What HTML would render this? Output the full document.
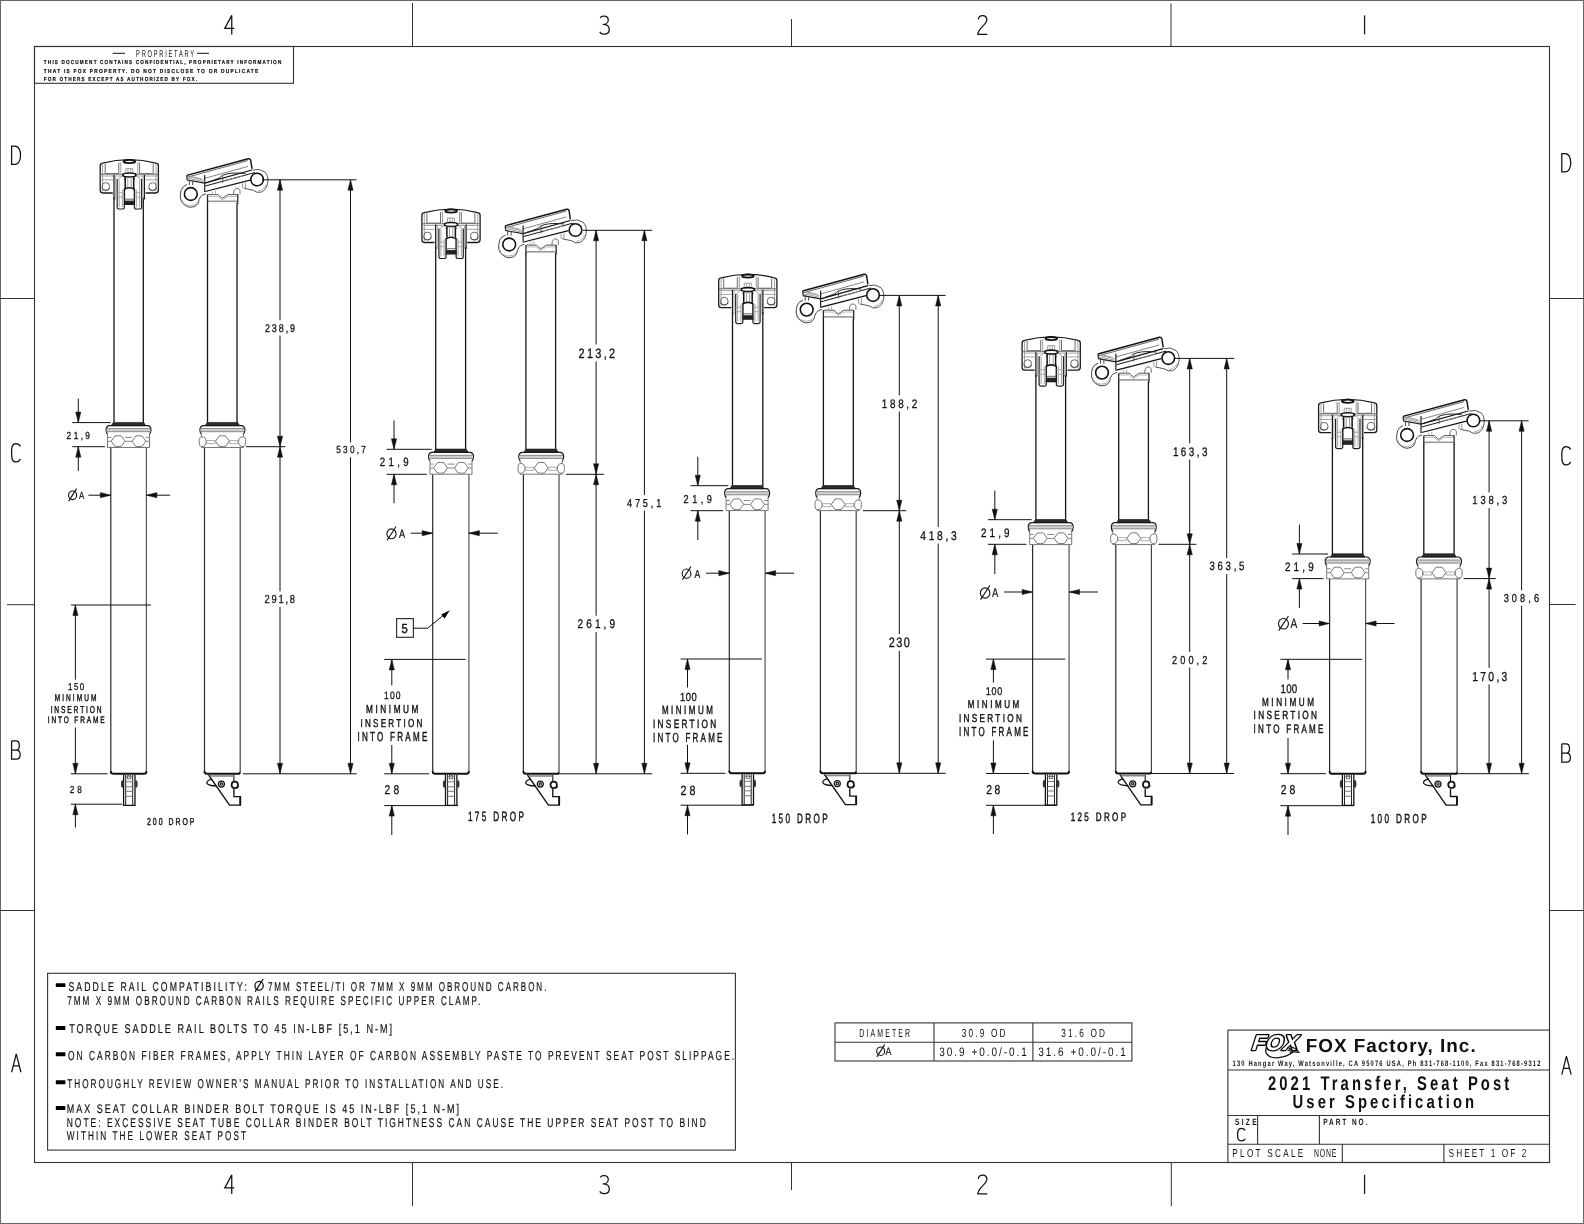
<!DOCTYPE html>
<html><head><meta charset="utf-8"><style>
html,body{margin:0;padding:0;background:#fff;overflow:hidden;}
svg{display:block;will-change:transform;}
text{font-family:"Liberation Sans",sans-serif;text-rendering:geometricPrecision;}
</style></head><body>
<svg width="1584" height="1224" viewBox="0 0 1584 1224">
<defs><g id="fhead"><path d="M-1.2,33.4 L-11.3,33.4 Q-13.8,33.4 -13.8,30.5 L-13.8,6.2 Q-13.8,4 -11.5,3.6 Q15.2,-3.4 42.1,3.6 Q44.4,4 44.4,6.2 L44.4,30.5 Q44.4,33.4 41.6,33.4 L31.6,33.4" stroke="#1a1a1a" stroke-width="1.3" fill="none"/><ellipse cx="15.4" cy="1.9" rx="5.9" ry="1.6" stroke="#111" stroke-width="1.8" fill="#fff"/><path d="M-8.8,4.2 L-8.8,14 L4.8,14 L4.8,3.0" stroke="#6a6a6a" stroke-width="1" fill="none"/><path d="M25.6,3.0 L25.6,14 L39.2,14 L39.2,4.2" stroke="#6a6a6a" stroke-width="1" fill="none"/><path d="M-11.4,4 L-11.4,32 M42,4 L42,32" stroke="#9a9a9a" stroke-width="0.9" fill="none"/><path d="M6.8,2.5 L6.8,14 M23.8,2.5 L23.8,14" stroke="#9a9a9a" stroke-width="1" fill="none"/><path d="M-13.6,14.6 L44.2,14.6" stroke="#6a6a6a" stroke-width="1" fill="none"/><path d="M-13.6,16.4 L44.2,16.4" stroke="#9a9a9a" stroke-width="0.9" fill="none"/><path d="M-13.6,20.2 L-1,20.2 M31.5,20.2 L44.2,20.2" stroke="#9a9a9a" stroke-width="0.9" fill="none"/><path d="M-12,27 Q-12,23 -8.2,23 Q-4.4,23 -4.4,27 Q-4.4,31 -8.2,31 Q-12,31 -12,27 Z" stroke="#6a6a6a" stroke-width="1" fill="none"/><path d="M34.8,27 Q34.8,23 38.6,23 Q42.4,23 42.4,27 Q42.4,31 38.6,31 Q34.8,31 34.8,27 Z" stroke="#6a6a6a" stroke-width="1" fill="none"/><path d="M-12.5,28.5 Q-8.2,33 -4,28.5 M34.3,28.5 Q38.6,33 42.9,28.5" stroke="#444" stroke-width="0.9" fill="none"/><path d="M11.8,12.5 L11.8,9 L18.8,9 L18.8,12.5" stroke="#9a9a9a" stroke-width="1" fill="none"/><path d="M14,8.8 L14,13 M16.6,8.8 L16.6,13" stroke="#9a9a9a" stroke-width="0.8" fill="none"/><path d="M3.5,20 L9.5,15.2 M27,20 L21,15.2" stroke="#9a9a9a" stroke-width="0.9" fill="none"/><ellipse cx="15.4" cy="15.4" rx="6.6" ry="2.0" stroke="#111" stroke-width="1.6" fill="#fff"/><path d="M11.2,17.2 L11.2,28.5 M19.7,17.2 L19.7,28.5" stroke="#111" stroke-width="1.5" fill="none"/><path d="M13.8,17.5 L13.8,28.5 M17.2,17.5 L17.2,28.5" stroke="#9a9a9a" stroke-width="1" fill="none"/><path d="M10,19.3 L11.2,19.3 M19.7,19.3 L21,19.3" stroke="#222" stroke-width="1.2" fill="none"/><path d="M10.4,28.8 L10.4,44.8 L20.4,44.8 L20.4,28.8" stroke="#111" stroke-width="1.4" fill="none"/><path d="M10.4,29.6 Q15.4,26.8 20.4,29.6" stroke="#111" stroke-width="1.6" fill="none"/><rect x="10.4" y="41.0" width="10" height="3.8" fill="#222"/><path d="M10.4,39.6 L20.4,39.6" stroke="#555" stroke-width="0.9" fill="none"/><path d="M3.2,19.5 L3.2,47.3 Q3.2,49.4 5.4,49.4 L8.4,49.4 Q10.4,49.4 10.4,47.3 L10.4,44" stroke="#222" stroke-width="1.2" fill="none"/><path d="M20.4,44 L20.4,47.3 Q20.4,49.4 22.4,49.4 L25.4,49.4 Q27.6,49.4 27.6,47.3 L27.6,19.5" stroke="#222" stroke-width="1.2" fill="none"/><path d="M5.2,20 L5.2,47.5 M8.4,30 L8.4,47.5 M22.4,30 L22.4,47.5 M25.6,20 L25.6,47.5" stroke="#9a9a9a" stroke-width="0.9" fill="none"/><path d="M3.2,33 L10.4,33 M20.4,33 L27.6,33 M3.2,37.5 L10.4,37.5 M20.4,37.5 L27.6,37.5" stroke="#9a9a9a" stroke-width="0.8" fill="none"/><path d="M0,15.5 L0,40 M30.4,15.5 L30.4,40" stroke="#1a1a1a" stroke-width="1.25" fill="none"/><path d="M1.6,17 L1.6,40 M28.8,17 L28.8,40" stroke="#9a9a9a" stroke-width="0.8" fill="none"/></g><g id="shead"><path d="M-20.8,-4.4 L40.7,-21.1 Q42.6,-21.4 43.2,-19.5 L44.5,-11" stroke="#111" stroke-width="1.45" fill="none"/><path d="M-20.2,-2.6 L40.2,-19.2" stroke="#555" stroke-width="0.9" fill="none"/><path d="M-2.8,-1.5 L40.5,-13.4" stroke="#777" stroke-width="0.9" fill="none"/><path d="M-20.8,-4.4 L-20.2,0.3 L-2.8,3.4" stroke="#222" stroke-width="1.2" fill="none"/><path d="M-19.5,-1.5 L-4,1.8 M-19,-3 L-4,0.2 M-17,-3.6 L-6,-1" stroke="#999" stroke-width="0.9" fill="none"/><path d="M-2.8,3.4 L44.5,-9.8" stroke="#111" stroke-width="1.25" fill="none"/><path d="M-2.8,-4.7 L-2.8,12.3" stroke="#222" stroke-width="1.2" fill="none"/><path d="M-18.2,0 L-18.2,5.2 M-14.8,0.7 L-14.8,5.2" stroke="#444" stroke-width="1" fill="none"/><path d="M-2.2,11.7 L42.6,0.3" stroke="#111" stroke-width="1.25" fill="none"/><path d="M-2.2,6.3 L47.5,-7.3" stroke="#222" stroke-width="1.05" fill="none"/><path d="M0.3,2.3 C5,1 8.5,-0.8 11.5,-1.6 C13.5,-3.2 14.5,-4.4 15.9,-4.8 C20,-6.4 25,-6.8 30,-6.8 L38,-6.4" stroke="#222" stroke-width="1" fill="none"/><path d="M15.2,-4.8 L15.2,3" stroke="#555" stroke-width="1" fill="none"/><path d="M17,0.6 L32,-2.8 M26,-1 L36,-4.2" stroke="#888" stroke-width="0.9" fill="none"/><circle cx="49.6" cy="-0.3" r="6.3" stroke="#111" stroke-width="1.6" fill="none"/><path d="M45.1,-9.8 Q52,-11.8 57.5,-7.8 Q61.2,-3.5 60.3,3 Q59,10 53.9,12.3 Q49,13.5 45.6,10.4 L36.3,8.5" stroke="#555" stroke-width="1" fill="none"/><path d="M58.5,4.8 Q56.5,10.6 50.5,11" stroke="#999" stroke-width="0.8" fill="none"/><path d="M35.2,8.3 L35.2,3.5 M38,8.6 L38,3" stroke="#888" stroke-width="0.9" fill="none"/><circle cx="-16.7" cy="14.2" r="6.4" stroke="#111" stroke-width="1.6" fill="none"/><path d="M-20.5,4.7 Q-25,6.5 -26.2,9.8 Q-27.6,14.5 -27.1,18.7 Q-26,23.5 -23,25 Q-20,27.5 -16.7,27.5 Q-12,27.4 -9.8,24.3 Q-8.6,22 -8.5,19.9 Q-7,16.5 -5.4,15.5 Q-3.5,14.3 -1.6,14.2" stroke="#444" stroke-width="1" fill="none"/><path d="M-26.3,19 Q-25,25.5 -17,25.8 Q-11.5,25.6 -9.6,22" stroke="#999" stroke-width="0.8" fill="none"/><path d="M0.3,14.8 L10.4,14.8 L14.8,18.6 L20.5,14.8 L30.6,14.8" stroke="#555" stroke-width="1" fill="none"/><path d="M0.3,16.6 L10,16.6 L14.8,20.2 L20.5,16.6 L30.3,16.6" stroke="#aaa" stroke-width="0.8" fill="none"/><path d="M26,14.8 Q25.5,10.5 28.5,8.5 Q31.5,8 32.5,10.5 L32.5,14.5" stroke="#666" stroke-width="0.95" fill="none"/><path d="M5,11.8 L5,14.8 M8,11 L8,14.8" stroke="#999" stroke-width="0.8" fill="none"/><path d="M0.5,21.5 L29.8,21.5" stroke="#999" stroke-width="1.6" fill="none"/><path d="M0,14.8 L0,24 M30.3,14.8 L30.3,24" stroke="#222" stroke-width="1.25" fill="none"/></g><g id="fcollar"><path d="M-15.2,-0.2 L15.2,-0.2 L17.2,3.0 L-17.2,3.0 Z" fill="#2a2a2a" stroke="#222" stroke-width="0.7"/><path d="M-19.5,3.0 L19.5,3.0 Q22.2,3.6 22.5,7 Q22.5,10 21,11.8 M-19.5,3.0 Q-22.2,3.6 -22.5,7 Q-22.5,10 -21,11.8" stroke="#1a1a1a" stroke-width="1.2" fill="none"/><rect x="-21.8" y="6" width="43.6" height="3" fill="#d0d0d0"/><path d="M-21.8,6.0 L21.8,6.0" stroke="#888" stroke-width="1" fill="none"/><path d="M-21.8,9.1 L21.8,9.1" stroke="#888" stroke-width="1" fill="none"/><path d="M-21,11.5 L-21,24.9 L21,24.9 L21,11.5" stroke="#777" stroke-width="1" fill="none"/><path d="M-17.3,18.6 L-13.6,13.4 Q-10.4,12.8 -7.2,13.4 L-3.5,18.6 L-7,23.6 Q-10.4,24.3 -13.8,23.6 Z" stroke="#777" stroke-width="1" fill="#fff"/><path d="M3.5,18.6 L7.2,13.4 Q10.4,12.8 13.6,13.4 L17.3,18.6 L13.8,23.6 Q10.4,24.3 7,23.6 Z" stroke="#777" stroke-width="1" fill="#fff"/><path d="M-3.5,14.8 L3.5,14.8 M-3.5,18.7 L3.5,18.7 M-20.8,14.8 L-17.2,14.8 M-20.8,18.7 L-17.2,18.7 M20.8,14.8 L17.2,14.8 M20.8,18.7 L17.2,18.7" stroke="#888" stroke-width="1" fill="none"/></g><g id="scollar"><path d="M-15.2,-0.2 L15.2,-0.2 L17.2,3.0 L-17.2,3.0 Z" fill="#2a2a2a" stroke="#222" stroke-width="0.7"/><path d="M-19.5,3.0 L19.5,3.0 Q22.2,3.6 22.5,7 Q22.5,10 21,11.8 M-19.5,3.0 Q-22.2,3.6 -22.5,7 Q-22.5,10 -21,11.8" stroke="#1a1a1a" stroke-width="1.2" fill="none"/><rect x="-21.8" y="6" width="43.6" height="3" fill="#d0d0d0"/><path d="M-21.8,6.0 L21.8,6.0" stroke="#888" stroke-width="1" fill="none"/><path d="M-21.8,9.1 L21.8,9.1" stroke="#888" stroke-width="1" fill="none"/><path d="M-21,11.5 L-21,24.9 L21,24.9 L21,11.5" stroke="#777" stroke-width="1" fill="none"/><path d="M-6.9,18.6 L-3.2,13.4 Q0,12.8 3.2,13.4 L6.9,18.6 L3.4,23.6 Q0,24.3 -3.4,23.6 Z" stroke="#777" stroke-width="1" fill="#fff"/><path d="M-20.8,14.2 Q-16.2,14.2 -16.2,19 Q-16.2,24 -20.8,24 Q-23.2,24 -23.2,19 Q-23.2,14.2 -20.8,14.2 Z" stroke="#777" stroke-width="1" fill="#fff"/><path d="M20.8,14.2 Q16.2,14.2 16.2,19 Q16.2,24 20.8,24 Q23.2,24 23.2,19 Q23.2,14.2 20.8,14.2 Z" stroke="#777" stroke-width="1" fill="#fff"/><path d="M-15.5,18 L-7.3,18 L-7.3,21 L-15.5,21 Z M15.5,18 L7.3,18 L7.3,21 L15.5,21 Z" stroke="#999" stroke-width="0.8" fill="none"/></g><g id="fact"><path d="M12.8,1 L12.8,31.6 L24.2,31.6 L24.2,1" stroke="#111" stroke-width="1.3" fill="none"/><path d="M14.9,1 L14.9,31.6 M21.9,1 L21.9,31.6" stroke="#222" stroke-width="1.0" fill="none"/><path d="M15,3 L21.8,3 M15,8 L21.8,8 M15,13 L21.8,13 M15,17.5 L21.8,17.5 M15,22.5 L21.8,22.5" stroke="#777" stroke-width="1.0" fill="none"/><ellipse cx="11.5" cy="10.2" rx="1.3" ry="3.8" fill="#333"/><ellipse cx="25.5" cy="10.2" rx="1.3" ry="3.8" fill="#333"/><rect x="16.8" y="1.5" width="3.2" height="3.6" stroke="#555" stroke-width="0.8" fill="none"/></g><g id="sact"><path d="M4.1,1.2 L25,31.4 L35.8,31.4 L35.8,22.8 L29.4,22.8 L29.4,15.2" stroke="#111" stroke-width="1.35" fill="none"/><path d="M35.8,22.8 L35.8,31.4" stroke="#111" stroke-width="1.8" fill="none"/><path d="M29.4,7.5 L29.4,1.2" stroke="#111" stroke-width="1.1" fill="none"/><circle cx="30.3" cy="11.1" r="3.2" stroke="#111" stroke-width="1.7" fill="#fff"/><path d="M30.5,14.6 Q34.5,14.8 34.3,12" stroke="#333" stroke-width="0.9" fill="none"/><circle cx="16.9" cy="10.3" r="3.0" stroke="#111" stroke-width="1.25" fill="none"/><circle cx="16.9" cy="10.3" r="1.2" stroke="#111" stroke-width="1.1" fill="none"/><path d="M7.5,5.2 Q2.5,6.5 2.3,9.2 Q3,11.8 12.5,12.4" stroke="#111" stroke-width="1.2" fill="none"/><path d="M5.5,2.2 L29,2.2" stroke="#888" stroke-width="1.6" fill="none"/></g></defs>
<rect width="1584" height="1224" fill="#fff"/>
<rect x="0.5" y="0.5" width="1583" height="1223" stroke="#666" stroke-width="1" fill="none"/>
<rect x="34.5" y="46.5" width="1515" height="1116" stroke="#333" stroke-width="1.1" fill="none"/>
<line x1="412.5" y1="3" x2="412.5" y2="46.5" stroke="#333" stroke-width="1"/>
<line x1="791.5" y1="19" x2="791.5" y2="46.5" stroke="#333" stroke-width="1"/>
<line x1="1171" y1="3.5" x2="1171" y2="46.5" stroke="#333" stroke-width="1"/>
<line x1="412.5" y1="1162.5" x2="412.5" y2="1206" stroke="#333" stroke-width="1"/>
<line x1="791.5" y1="1162.5" x2="791.5" y2="1190" stroke="#333" stroke-width="1"/>
<line x1="1171.3" y1="1162.5" x2="1171.3" y2="1206" stroke="#333" stroke-width="1"/>
<line x1="0" y1="298.5" x2="34.5" y2="298.5" stroke="#333" stroke-width="1"/>
<line x1="7" y1="604.7" x2="34.5" y2="604.7" stroke="#333" stroke-width="1"/>
<line x1="0" y1="910.5" x2="34.5" y2="910.5" stroke="#333" stroke-width="1"/>
<line x1="1549.5" y1="298.5" x2="1584" y2="298.5" stroke="#333" stroke-width="1"/>
<line x1="1549.5" y1="604.5" x2="1575.6" y2="604.5" stroke="#333" stroke-width="1"/>
<line x1="1549.5" y1="910.5" x2="1584" y2="910.5" stroke="#333" stroke-width="1"/>
<path d="M7,19 L7,0 L0,13 L9.5,13" transform="translate(224.75,15.4) scale(1,1)" stroke="#111" stroke-width="1.25" fill="none" vector-effect="non-scaling-stroke"/>
<path d="M7,19 L7,0 L0,13 L9.5,13" transform="translate(224.75,1174.9) scale(1,1)" stroke="#111" stroke-width="1.25" fill="none" vector-effect="non-scaling-stroke"/>
<path d="M0.5,2.5 C1.5,0 8.5,-0.5 8.5,4.5 C8.5,8 5,9 3,9 C6,9 9.5,10 9.5,14 C9.5,20 1.5,19.5 0,16.5" transform="translate(599.75,15.4) scale(1,1)" stroke="#111" stroke-width="1.25" fill="none" vector-effect="non-scaling-stroke"/>
<path d="M0.5,2.5 C1.5,0 8.5,-0.5 8.5,4.5 C8.5,8 5,9 3,9 C6,9 9.5,10 9.5,14 C9.5,20 1.5,19.5 0,16.5" transform="translate(599.75,1174.9) scale(1,1)" stroke="#111" stroke-width="1.25" fill="none" vector-effect="non-scaling-stroke"/>
<path d="M0.5,4 C0.5,-1 9,-1 9,4.5 C9,9 0,13 0,19 L9.5,19" transform="translate(977.85,15.4) scale(1,1)" stroke="#111" stroke-width="1.25" fill="none" vector-effect="non-scaling-stroke"/>
<path d="M0.5,4 C0.5,-1 9,-1 9,4.5 C9,9 0,13 0,19 L9.5,19" transform="translate(977.85,1174.9) scale(1,1)" stroke="#111" stroke-width="1.25" fill="none" vector-effect="non-scaling-stroke"/>
<path d="M5,0 L5,19" transform="translate(1359.55,15.4) scale(1,1)" stroke="#111" stroke-width="1.25" fill="none" vector-effect="non-scaling-stroke"/>
<path d="M5,0 L5,19" transform="translate(1359.55,1174.9) scale(1,1)" stroke="#111" stroke-width="1.25" fill="none" vector-effect="non-scaling-stroke"/>
<path d="M0,0 L0,19 L3.5,19 C11,19 11,0 3.5,0 Z" transform="translate(11.6,146) scale(0.98,0.97)" stroke="#111" stroke-width="1.25" fill="none" vector-effect="non-scaling-stroke"/>
<path d="M0,0 L0,19 L3.5,19 C11,19 11,0 3.5,0 Z" transform="translate(1561.8,153.5) scale(0.98,0.97)" stroke="#111" stroke-width="1.25" fill="none" vector-effect="non-scaling-stroke"/>
<path d="M9,3 C7.5,0 5.5,0 4.5,0 C0,0 0,5 0,9.5 C0,14 0,19 4.5,19 C5.5,19 7.5,19 9,16" transform="translate(11.6,443.5) scale(0.98,0.97)" stroke="#111" stroke-width="1.25" fill="none" vector-effect="non-scaling-stroke"/>
<path d="M9,3 C7.5,0 5.5,0 4.5,0 C0,0 0,5 0,9.5 C0,14 0,19 4.5,19 C5.5,19 7.5,19 9,16" transform="translate(1561.8,446.5) scale(0.98,0.97)" stroke="#111" stroke-width="1.25" fill="none" vector-effect="non-scaling-stroke"/>
<path d="M0,0 L0,19 L5,19 C10,19 10,9.5 5,9.5 L0,9.5 M0,0 L4.5,0 C9,0 9,9.5 4.5,9.5" transform="translate(11.6,740.8) scale(0.98,0.97)" stroke="#111" stroke-width="1.25" fill="none" vector-effect="non-scaling-stroke"/>
<path d="M0,0 L0,19 L5,19 C10,19 10,9.5 5,9.5 L0,9.5 M0,0 L4.5,0 C9,0 9,9.5 4.5,9.5" transform="translate(1561.8,743.8) scale(0.98,0.97)" stroke="#111" stroke-width="1.25" fill="none" vector-effect="non-scaling-stroke"/>
<path d="M0,19 L4.75,0 L9.5,19 M1.6,12.5 L7.9,12.5" transform="translate(11.6,1053.8) scale(0.98,0.97)" stroke="#111" stroke-width="1.25" fill="none" vector-effect="non-scaling-stroke"/>
<path d="M0,19 L4.75,0 L9.5,19 M1.6,12.5 L7.9,12.5" transform="translate(1561.8,1056.2) scale(0.98,0.97)" stroke="#111" stroke-width="1.25" fill="none" vector-effect="non-scaling-stroke"/>
<rect x="34.5" y="46.5" width="259" height="36.8" stroke="#333" stroke-width="1.1" fill="none"/>
<g transform="translate(136.1,56.6) scale(0.59,1)"><text x="0" y="0" font-size="9.74" font-weight="normal" textLength="98.32" lengthAdjust="spacing" fill="#111" font-family="Liberation Sans" >PROPRIETARY</text></g>
<line x1="112.7" y1="53.3" x2="125" y2="53.3" stroke="#111" stroke-width="1"/>
<line x1="197" y1="53.3" x2="209" y2="53.3" stroke="#111" stroke-width="1"/>
<g transform="translate(43.87,64.4) scale(0.82,1)"><text x="0" y="0" font-size="5.67" font-weight="bold" textLength="289.47" lengthAdjust="spacing" fill="#111" stroke="#111" stroke-width="0.2" font-family="Liberation Sans" >THIS DOCUMENT CONTAINS CONFIDENTIAL, PROPRIETARY INFORMATION</text></g>
<g transform="translate(43.86,72.8) scale(0.86,1)"><text x="0" y="0" font-size="5.67" font-weight="bold" textLength="249.25" lengthAdjust="spacing" fill="#111" stroke="#111" stroke-width="0.2" font-family="Liberation Sans" >THAT IS FOX PROPERTY.  DO NOT DISCLOSE TO OR DUPLICATE</text></g>
<g transform="translate(43.87,81) scale(0.82,1)"><text x="0" y="0" font-size="5.67" font-weight="bold" textLength="186.7" lengthAdjust="spacing" fill="#111" stroke="#111" stroke-width="0.2" font-family="Liberation Sans" >FOR OTHERS EXCEPT AS AUTHORIZED BY FOX.</text></g>
<rect x="47.6" y="973.3" width="687.8" height="176.8" stroke="#333" stroke-width="1.1" fill="none"/>
<g transform="translate(68.39,990.5) scale(0.68,1)"><text x="0" y="0" font-size="12.79" font-weight="normal" textLength="262.41" lengthAdjust="spacing" fill="#111" stroke="#111" stroke-width="0.2" font-family="Liberation Sans" >SADDLE RAIL COMPATIBILITY:</text></g>
<rect x="55.8" y="983.15" width="9.6" height="3.9" rx="0.6" fill="#000"/>
<g transform="translate(267.93,990.5) scale(0.63,1)"><text x="0" y="0" font-size="12.79" font-weight="normal" textLength="442.02" lengthAdjust="spacing" fill="#111" stroke="#111" stroke-width="0.2" font-family="Liberation Sans" >7MM STEEL/TI OR 7MM X 9MM OBROUND CARBON.</text></g>
<g transform="translate(67.23,1005.1) scale(0.64,1)"><text x="0" y="0" font-size="12.79" font-weight="normal" textLength="645.39" lengthAdjust="spacing" fill="#111" stroke="#111" stroke-width="0.2" font-family="Liberation Sans" >7MM X 9MM OBROUND CARBON RAILS REQUIRE SPECIFIC UPPER CLAMP.</text></g>
<g transform="translate(69.16,1033.4) scale(0.71,1)"><text x="0" y="0" font-size="12.79" font-weight="normal" textLength="454.91" lengthAdjust="spacing" fill="#111" stroke="#111" stroke-width="0.2" font-family="Liberation Sans" >TORQUE SADDLE RAIL BOLTS TO 45 IN-LBF [5,1 N-M]</text></g>
<rect x="55.8" y="1026.05" width="9.6" height="3.9" rx="0.6" fill="#000"/>
<g transform="translate(68.02,1059.7) scale(0.64,1)"><text x="0" y="0" font-size="13.08" font-weight="normal" textLength="1040.72" lengthAdjust="spacing" fill="#111" stroke="#111" stroke-width="0.2" font-family="Liberation Sans" >ON CARBON FIBER FRAMES, APPLY THIN LAYER OF CARBON ASSEMBLY PASTE TO PREVENT SEAT POST SLIPPAGE.</text></g>
<rect x="55.8" y="1052.25" width="9.6" height="3.9" rx="0.6" fill="#000"/>
<g transform="translate(67.23,1087.7) scale(0.64,1)"><text x="0" y="0" font-size="12.79" font-weight="normal" textLength="680.9" lengthAdjust="spacing" fill="#111" stroke="#111" stroke-width="0.2" font-family="Liberation Sans" >THOROUGHLY REVIEW OWNER’S MANUAL PRIOR TO INSTALLATION AND USE.</text></g>
<rect x="55.8" y="1080.35" width="9.6" height="3.9" rx="0.6" fill="#000"/>
<g transform="translate(66.67,1113.3) scale(0.72,1)"><text x="0" y="0" font-size="12.5" font-weight="normal" textLength="544.9" lengthAdjust="spacing" fill="#111" stroke="#111" stroke-width="0.2" font-family="Liberation Sans" >MAX SEAT COLLAR BINDER BOLT TORQUE IS 45 IN-LBF [5,1 N-M]</text></g>
<rect x="55.8" y="1106.05" width="9.6" height="3.9" rx="0.6" fill="#000"/>
<g transform="translate(66.71,1126.9) scale(0.66,1)"><text x="0" y="0" font-size="12.79" font-weight="normal" textLength="968.21" lengthAdjust="spacing" fill="#111" stroke="#111" stroke-width="0.2" font-family="Liberation Sans" >NOTE: EXCESSIVE SEAT TUBE COLLAR BINDER BOLT TIGHTNESS CAN CAUSE THE UPPER SEAT POST TO BIND</text></g>
<g transform="translate(66.73,1139.5) scale(0.64,1)"><text x="0" y="0" font-size="12.79" font-weight="normal" textLength="280.13" lengthAdjust="spacing" fill="#111" stroke="#111" stroke-width="0.2" font-family="Liberation Sans" >WITHIN THE LOWER SEAT POST</text></g>
<ellipse cx="259.09" cy="985.8" rx="4.14" ry="4.42" stroke="#111" stroke-width="1.3" fill="none"/>
<line x1="255.14" y1="991.7" x2="263.22" y2="979" stroke="#111" stroke-width="1.3"/>
<rect x="835" y="1022.9" width="296.9" height="38.1" stroke="#333" stroke-width="1.1" fill="none"/>
<line x1="835" y1="1042.3" x2="1131.9" y2="1042.3" stroke="#333" stroke-width="1.1"/>
<line x1="934" y1="1022.9" x2="934" y2="1061" stroke="#333" stroke-width="1.1"/>
<line x1="1032.9" y1="1022.9" x2="1032.9" y2="1061" stroke="#333" stroke-width="1.1"/>
<g transform="translate(859.32,1036.7) scale(0.59,1)"><text x="0" y="0" font-size="11.77" font-weight="normal" textLength="86.14" lengthAdjust="spacing" fill="#111" font-family="Liberation Sans" >DIAMETER</text></g>
<g transform="translate(961.73,1036.7) scale(0.7,1)"><text x="0" y="0" font-size="11.77" font-weight="normal" textLength="62.55" lengthAdjust="spacing" fill="#111" font-family="Liberation Sans" >30.9 OD</text></g>
<g transform="translate(1061.23,1036.7) scale(0.7,1)"><text x="0" y="0" font-size="11.77" font-weight="normal" textLength="62.55" lengthAdjust="spacing" fill="#111" font-family="Liberation Sans" >31.6 OD</text></g>
<ellipse cx="880.68" cy="1051.2" rx="3.96" ry="4.23" stroke="#111" stroke-width="1.1" fill="none"/>
<line x1="876.9" y1="1056.9" x2="884.64" y2="1044.6" stroke="#111" stroke-width="1.1"/>
<g transform="translate(885.39,1055.2) scale(0.8,1)"><text x="0" y="0" font-size="10.9" font-weight="normal" textLength="8.4" lengthAdjust="spacing" fill="#111" stroke="#111" stroke-width="0.2" font-family="Liberation Sans" >A</text></g>
<g transform="translate(939.3,1055.7) scale(0.82,1)"><text x="0" y="0" font-size="12.21" font-weight="normal" textLength="106.83" lengthAdjust="spacing" fill="#111" font-family="Liberation Sans" >30.9 +0.0/-0.1</text></g>
<g transform="translate(1038.3,1055.7) scale(0.82,1)"><text x="0" y="0" font-size="12.21" font-weight="normal" textLength="106.83" lengthAdjust="spacing" fill="#111" font-family="Liberation Sans" >31.6 +0.0/-0.1</text></g>
<rect x="1227.9" y="1030.1" width="321.6" height="132.4" stroke="#333" stroke-width="1.1" fill="none"/>
<line x1="1227.9" y1="1070" x2="1549.5" y2="1070" stroke="#333" stroke-width="1.1"/>
<line x1="1227.9" y1="1115.5" x2="1549.5" y2="1115.5" stroke="#333" stroke-width="1.1"/>
<line x1="1227.9" y1="1144.2" x2="1549.5" y2="1144.2" stroke="#333" stroke-width="1.1"/>
<line x1="1257.6" y1="1115.5" x2="1257.6" y2="1144.2" stroke="#333" stroke-width="1.1"/>
<line x1="1319.4" y1="1115.5" x2="1319.4" y2="1144.2" stroke="#333" stroke-width="1.1"/>
<line x1="1342.3" y1="1144.2" x2="1342.3" y2="1162.5" stroke="#333" stroke-width="1.1"/>
<line x1="1443.9" y1="1144.2" x2="1443.9" y2="1162.5" stroke="#333" stroke-width="1.1"/>
<text x="1305.68" y="1051.5" font-size="18.9" font-weight="bold" textLength="169.95" lengthAdjust="spacing" fill="#111" font-family="Liberation Sans" >FOX  Factory,  Inc.</text>
<g transform="translate(1232.5,1066) scale(0.72,1)"><text x="0" y="0" font-size="7.99" font-weight="bold" textLength="427.58" lengthAdjust="spacing" fill="#111" font-family="Liberation Sans" >130 Hangar Way, Watsonville, CA 95076 USA, Ph 831-768-1100, Fax 831-768-9312</text></g>
<g transform="translate(1267.97,1090.1) scale(0.75,1)"><text x="0" y="0" font-size="19.77" font-weight="bold" textLength="321.71" lengthAdjust="spacing" fill="#111" font-family="Liberation Sans" >2021 Transfer, Seat Post</text></g>
<g transform="translate(1292.56,1108.3) scale(0.79,1)"><text x="0" y="0" font-size="18.75" font-weight="bold" textLength="229.84" lengthAdjust="spacing" fill="#111" font-family="Liberation Sans" >User Specification</text></g>
<g transform="translate(1235.04,1124.9) scale(0.73,1)"><text x="0" y="0" font-size="9.16" font-weight="bold" textLength="29.55" lengthAdjust="spacing" fill="#111" font-family="Liberation Sans" >SIZE</text></g>
<g transform="translate(1323.24,1124.9) scale(0.71,1)"><text x="0" y="0" font-size="9.16" font-weight="bold" textLength="62.05" lengthAdjust="spacing" fill="#111" font-family="Liberation Sans" >PART NO.</text></g>
<g transform="translate(1232.33,1157.1) scale(0.7,1)"><text x="0" y="0" font-size="11.63" font-weight="normal" textLength="101.26" lengthAdjust="spacing" fill="#111" font-family="Liberation Sans" >PLOT SCALE</text></g>
<g transform="translate(1313.92,1157.1) scale(0.59,1)"><text x="0" y="0" font-size="11.63" font-weight="normal" textLength="38.14" lengthAdjust="spacing" fill="#111" font-family="Liberation Sans" >NONE</text></g>
<g transform="translate(1448.62,1157.1) scale(0.71,1)"><text x="0" y="0" font-size="11.63" font-weight="normal" textLength="109.32" lengthAdjust="spacing" fill="#111" font-family="Liberation Sans" >SHEET 1 OF 2</text></g>
<path d="M9,3 C7.5,0 5.5,0 4.5,0 C0,0 0,5 0,9.5 C0,14 0,19 4.5,19 C5.5,19 7.5,19 9,16" transform="translate(1237.6,1128.4) scale(0.85,0.66)" stroke="#111" stroke-width="1.25" fill="none" vector-effect="non-scaling-stroke"/>
<g transform="translate(1250.5,1049.6) skewX(-18)"><text x="0" y="0" font-size="21.5" font-weight="bold" font-family="Liberation Sans" fill="#fff" stroke="#000" stroke-width="2.6" paint-order="stroke" stroke-linejoin="round" textLength="46" lengthAdjust="spacingAndGlyphs">FOX</text></g>
<path d="M1266.5,1047.5 C1264,1053 1268,1058 1277,1057.8 C1285,1057.5 1290,1054.5 1293.5,1051.8" stroke="#111" stroke-width="1.3" fill="none" />
<path d="M1287.5,1047.2 L1291,1049.2 L1288.5,1050.5 L1292.5,1051.3 L1290,1053 M1290.5,1046.8 C1294,1047.5 1297,1049.5 1299,1052.5 C1296,1051.8 1294.5,1052 1293.5,1051.8" stroke="#111" stroke-width="1.1" fill="none" />
<line x1="114" y1="197.6" x2="114" y2="423.1" stroke="#151515" stroke-width="1.3"/>
<line x1="143.3" y1="197.6" x2="143.3" y2="423.1" stroke="#151515" stroke-width="1.3"/>
<line x1="110.8" y1="446.7" x2="110.8" y2="772.6" stroke="#2a2a2a" stroke-width="1.2"/>
<line x1="146.4" y1="446.7" x2="146.4" y2="772.6" stroke="#555" stroke-width="1.2"/>
<path d="M110.8,771.3 Q110.8,773.8 113.3,773.8 L143.9,773.8 Q146.4,773.8 146.4,771.3" stroke="#111" stroke-width="2" fill="none" />
<use href="#fhead" transform="translate(114,159.6)"/>
<use href="#fcollar" transform="translate(128.5,422.6)"/>
<use href="#fact" transform="translate(110.8,773.8)"/>
<line x1="207.5" y1="202.8" x2="207.5" y2="423.1" stroke="#151515" stroke-width="1.3"/>
<line x1="237" y1="202.8" x2="237" y2="423.1" stroke="#151515" stroke-width="1.3"/>
<line x1="204.5" y1="446.7" x2="204.5" y2="772.6" stroke="#2a2a2a" stroke-width="1.2"/>
<line x1="240.2" y1="446.7" x2="240.2" y2="772.6" stroke="#444" stroke-width="1.2"/>
<path d="M204.5,771.3 Q204.5,773.8 207,773.8 L239.2,773.8 L240.2,772.3" stroke="#111" stroke-width="2" fill="none" />
<use href="#shead" transform="translate(207.5,179.8)"/>
<use href="#scollar" transform="translate(222.4,422.6)"/>
<use href="#sact" transform="translate(204.5,773.8)"/>
<line x1="262" y1="179.8" x2="356.6" y2="179.8" stroke="#111" stroke-width="1"/>
<line x1="246" y1="446.7" x2="285.3" y2="446.7" stroke="#111" stroke-width="1"/>
<line x1="243" y1="773.8" x2="356.7" y2="773.8" stroke="#111" stroke-width="1"/>
<line x1="280" y1="179.8" x2="280" y2="320.2" stroke="#111" stroke-width="1"/>
<line x1="280" y1="335.5" x2="280" y2="446.7" stroke="#111" stroke-width="1"/>
<line x1="280" y1="446.7" x2="280" y2="591.3" stroke="#111" stroke-width="1"/>
<line x1="280" y1="606.9" x2="280" y2="773.8" stroke="#111" stroke-width="1"/>
<line x1="350.5" y1="179.8" x2="350.5" y2="442.5" stroke="#111" stroke-width="1"/>
<line x1="350.5" y1="457.2" x2="350.5" y2="773.8" stroke="#111" stroke-width="1"/>
<path d="M280,179.8 L277.4,190.3 L282.6,190.3Z" fill="#111" stroke="#111" stroke-width="0.5"/>
<path d="M280,446.7 L277.4,436.2 L282.6,436.2Z" fill="#111" stroke="#111" stroke-width="0.5"/>
<path d="M280,446.7 L277.4,457.2 L282.6,457.2Z" fill="#111" stroke="#111" stroke-width="0.5"/>
<path d="M280,773.8 L277.4,763.3 L282.6,763.3Z" fill="#111" stroke="#111" stroke-width="0.5"/>
<path d="M350.5,179.8 L347.9,190.3 L353.1,190.3Z" fill="#111" stroke="#111" stroke-width="0.5"/>
<path d="M350.5,773.8 L347.9,763.3 L353.1,763.3Z" fill="#111" stroke="#111" stroke-width="0.5"/>
<g transform="translate(264.97,331.7) scale(0.8,1)"><text x="0" y="0" font-size="11.19" font-weight="normal" textLength="37.57" lengthAdjust="spacing" fill="#111" stroke="#111" stroke-width="0.3" font-family="Liberation Sans" >238,9</text></g>
<g transform="translate(264.55,603.1) scale(0.8,1)"><text x="0" y="0" font-size="11.63" font-weight="normal" textLength="38" lengthAdjust="spacing" fill="#111" stroke="#111" stroke-width="0.3" font-family="Liberation Sans" >291,8</text></g>
<g transform="translate(336.32,453.4) scale(0.8,1)"><text x="0" y="0" font-size="10.32" font-weight="normal" textLength="36.82" lengthAdjust="spacing" fill="#111" stroke="#111" stroke-width="0.3" font-family="Liberation Sans" >530,7</text></g>
<line x1="72.2" y1="422.6" x2="110.6" y2="422.6" stroke="#111" stroke-width="1"/>
<line x1="72.2" y1="446.7" x2="105" y2="446.7" stroke="#111" stroke-width="1"/>
<line x1="78.3" y1="398.6" x2="78.3" y2="422.6" stroke="#111" stroke-width="1"/>
<line x1="78.3" y1="446.7" x2="78.3" y2="470.9" stroke="#111" stroke-width="1"/>
<path d="M78.3,422.6 L75.7,412.1 L80.9,412.1Z" fill="#111" stroke="#111" stroke-width="0.5"/>
<path d="M78.3,446.7 L75.7,457.2 L80.9,457.2Z" fill="#111" stroke="#111" stroke-width="0.5"/>
<g transform="translate(66.62,438.9) scale(0.8,1)"><text x="0" y="0" font-size="10.32" font-weight="normal" textLength="29.19" lengthAdjust="spacing" fill="#111" stroke="#111" stroke-width="0.3" font-family="Liberation Sans" >21,9</text></g>
<ellipse cx="72.58" cy="495.3" rx="4.05" ry="4.32" stroke="#111" stroke-width="1.1" fill="none"/>
<line x1="68.72" y1="501.1" x2="76.63" y2="488.6" stroke="#111" stroke-width="1.1"/>
<g transform="translate(78.97,498.9) scale(0.75,1)"><text x="0" y="0" font-size="10.47" font-weight="normal" textLength="7.84" lengthAdjust="spacing" fill="#111" stroke="#111" stroke-width="0.2" font-family="Liberation Sans" >A</text></g>
<line x1="88.4" y1="495.2" x2="110.8" y2="495.2" stroke="#111" stroke-width="1"/>
<path d="M110.8,495.2 L100.3,492.6 L100.3,497.8Z" fill="#111" stroke="#111" stroke-width="0.5"/>
<line x1="146.4" y1="495.2" x2="170.2" y2="495.2" stroke="#111" stroke-width="1"/>
<path d="M146.4,495.2 L156.9,492.6 L156.9,497.8Z" fill="#111" stroke="#111" stroke-width="0.5"/>
<line x1="70.9" y1="605" x2="150.9" y2="605" stroke="#111" stroke-width="1"/>
<line x1="75.4" y1="605" x2="75.4" y2="679.7" stroke="#111" stroke-width="1"/>
<line x1="75.4" y1="727.5" x2="75.4" y2="773.8" stroke="#111" stroke-width="1"/>
<path d="M75.4,605 L72.8,615.5 L78,615.5Z" fill="#111" stroke="#111" stroke-width="0.5"/>
<path d="M75.4,773.8 L72.8,763.3 L78,763.3Z" fill="#111" stroke="#111" stroke-width="0.5"/>
<g transform="translate(68.05,690.3) scale(0.8,1)"><text x="0" y="0" font-size="9.88" font-weight="normal" textLength="20.26" lengthAdjust="spacing" fill="#111" stroke="#111" stroke-width="0.3" font-family="Liberation Sans" >150</text></g>
<g transform="translate(54.74,701.4) scale(0.66,1)"><text x="0" y="0" font-size="9.88" font-weight="normal" textLength="63.14" lengthAdjust="spacing" fill="#111" stroke="#111" stroke-width="0.45" font-family="Liberation Sans" >MINIMUM</text></g>
<g transform="translate(50.63,712.6) scale(0.66,1)"><text x="0" y="0" font-size="10.03" font-weight="normal" textLength="77.25" lengthAdjust="spacing" fill="#111" stroke="#111" stroke-width="0.45" font-family="Liberation Sans" >INSERTION</text></g>
<g transform="translate(47.85,723.4) scale(0.69,1)"><text x="0" y="0" font-size="9.45" font-weight="normal" textLength="82.24" lengthAdjust="spacing" fill="#111" stroke="#111" stroke-width="0.45" font-family="Liberation Sans" >INTO FRAME</text></g>
<line x1="70.9" y1="773.8" x2="107.5" y2="773.8" stroke="#111" stroke-width="1"/>
<g transform="translate(69.83,792.5) scale(0.8,1)"><text x="0" y="0" font-size="10.17" font-weight="normal" textLength="14.92" lengthAdjust="spacing" fill="#111" stroke="#111" stroke-width="0.3" font-family="Liberation Sans" >28</text></g>
<line x1="70.9" y1="804.2" x2="122.3" y2="804.2" stroke="#111" stroke-width="1"/>
<line x1="75.4" y1="804.2" x2="75.4" y2="827.5" stroke="#111" stroke-width="1"/>
<path d="M75.4,804.2 L72.8,814.7 L78,814.7Z" fill="#111" stroke="#111" stroke-width="0.5"/>
<g transform="translate(147.02,824.5) scale(0.69,1)"><text x="0" y="0" font-size="10.03" font-weight="normal" textLength="68.76" lengthAdjust="spacing" fill="#111" stroke="#111" stroke-width="0.45" font-family="Liberation Sans" >200 DROP</text></g>
<line x1="435.7" y1="247.1" x2="435.7" y2="449.8" stroke="#151515" stroke-width="1.3"/>
<line x1="465.6" y1="247.1" x2="465.6" y2="449.8" stroke="#151515" stroke-width="1.3"/>
<line x1="432.7" y1="474.3" x2="432.7" y2="772.6" stroke="#2a2a2a" stroke-width="1.2"/>
<line x1="468.9" y1="474.3" x2="468.9" y2="772.6" stroke="#555" stroke-width="1.2"/>
<path d="M432.7,771.3 Q432.7,773.8 435.2,773.8 L466.4,773.8 Q468.9,773.8 468.9,771.3" stroke="#111" stroke-width="2" fill="none" />
<use href="#fhead" transform="translate(435.7,209.1)"/>
<use href="#fcollar" transform="translate(451,449.3)"/>
<use href="#fact" transform="translate(432.7,773.8)"/>
<line x1="525.9" y1="253.3" x2="525.9" y2="449.8" stroke="#151515" stroke-width="1.3"/>
<line x1="555.6" y1="253.3" x2="555.6" y2="449.8" stroke="#151515" stroke-width="1.3"/>
<line x1="523.4" y1="474.3" x2="523.4" y2="772.6" stroke="#2a2a2a" stroke-width="1.2"/>
<line x1="559" y1="474.3" x2="559" y2="772.6" stroke="#444" stroke-width="1.2"/>
<path d="M523.4,771.3 Q523.4,773.8 525.9,773.8 L558,773.8 L559,772.3" stroke="#111" stroke-width="2" fill="none" />
<use href="#shead" transform="translate(525.9,230.3)"/>
<use href="#scollar" transform="translate(541.2,449.3)"/>
<use href="#sact" transform="translate(523.4,773.8)"/>
<line x1="583" y1="230.3" x2="652.2" y2="230.3" stroke="#111" stroke-width="1"/>
<line x1="566" y1="474.3" x2="603.9" y2="474.3" stroke="#111" stroke-width="1"/>
<line x1="559" y1="773.8" x2="652.2" y2="773.8" stroke="#111" stroke-width="1"/>
<line x1="596.1" y1="230.3" x2="596.1" y2="344.5" stroke="#111" stroke-width="1"/>
<line x1="596.1" y1="361.5" x2="596.1" y2="474.3" stroke="#111" stroke-width="1"/>
<line x1="596.1" y1="474.3" x2="596.1" y2="615.8" stroke="#111" stroke-width="1"/>
<line x1="596.1" y1="632" x2="596.1" y2="773.8" stroke="#111" stroke-width="1"/>
<line x1="644.4" y1="230.3" x2="644.4" y2="495.1" stroke="#111" stroke-width="1"/>
<line x1="644.4" y1="510.6" x2="644.4" y2="773.8" stroke="#111" stroke-width="1"/>
<path d="M596.1,230.3 L593.5,240.8 L598.7,240.8Z" fill="#111" stroke="#111" stroke-width="0.5"/>
<path d="M596.1,474.3 L593.5,463.8 L598.7,463.8Z" fill="#111" stroke="#111" stroke-width="0.5"/>
<path d="M596.1,474.3 L593.5,484.8 L598.7,484.8Z" fill="#111" stroke="#111" stroke-width="0.5"/>
<path d="M596.1,773.8 L593.5,763.3 L598.7,763.3Z" fill="#111" stroke="#111" stroke-width="0.5"/>
<path d="M644.4,230.3 L641.8,240.8 L647,240.8Z" fill="#111" stroke="#111" stroke-width="0.5"/>
<path d="M644.4,773.8 L641.8,763.3 L647,763.3Z" fill="#111" stroke="#111" stroke-width="0.5"/>
<g transform="translate(578.53,357.7) scale(0.8,1)"><text x="0" y="0" font-size="13.66" font-weight="normal" textLength="45.66" lengthAdjust="spacing" fill="#111" stroke="#111" stroke-width="0.3" font-family="Liberation Sans" >213,2</text></g>
<g transform="translate(577.6,628.2) scale(0.8,1)"><text x="0" y="0" font-size="12.5" font-weight="normal" textLength="46.75" lengthAdjust="spacing" fill="#111" stroke="#111" stroke-width="0.3" font-family="Liberation Sans" >261,9</text></g>
<g transform="translate(626.96,506.8) scale(0.8,1)"><text x="0" y="0" font-size="11.48" font-weight="normal" textLength="42.98" lengthAdjust="spacing" fill="#111" stroke="#111" stroke-width="0.3" font-family="Liberation Sans" >475,1</text></g>
<line x1="386.7" y1="449.3" x2="431.6" y2="449.3" stroke="#111" stroke-width="1"/>
<line x1="386.7" y1="474.3" x2="426.8" y2="474.3" stroke="#111" stroke-width="1"/>
<line x1="394" y1="420.5" x2="394" y2="449.3" stroke="#111" stroke-width="1"/>
<line x1="394" y1="474.3" x2="394" y2="503.3" stroke="#111" stroke-width="1"/>
<path d="M394,449.3 L391.4,438.8 L396.6,438.8Z" fill="#111" stroke="#111" stroke-width="0.5"/>
<path d="M394,474.3 L391.4,484.8 L396.6,484.8Z" fill="#111" stroke="#111" stroke-width="0.5"/>
<g transform="translate(379.72,466.4) scale(0.8,1)"><text x="0" y="0" font-size="12.06" font-weight="normal" textLength="36.06" lengthAdjust="spacing" fill="#111" stroke="#111" stroke-width="0.3" font-family="Liberation Sans" >21,9</text></g>
<ellipse cx="391.51" cy="533.8" rx="4.58" ry="4.89" stroke="#111" stroke-width="1.1" fill="none"/>
<line x1="387.14" y1="540.2" x2="396.08" y2="526.5" stroke="#111" stroke-width="1.1"/>
<g transform="translate(398.95,538) scale(0.75,1)"><text x="0" y="0" font-size="12.21" font-weight="normal" textLength="8.92" lengthAdjust="spacing" fill="#111" stroke="#111" stroke-width="0.2" font-family="Liberation Sans" >A</text></g>
<line x1="410.7" y1="533.2" x2="432.7" y2="533.2" stroke="#111" stroke-width="1"/>
<path d="M432.7,533.2 L422.2,530.6 L422.2,535.8Z" fill="#111" stroke="#111" stroke-width="0.5"/>
<line x1="468.9" y1="533.2" x2="497.8" y2="533.2" stroke="#111" stroke-width="1"/>
<path d="M468.9,533.2 L479.4,530.6 L479.4,535.8Z" fill="#111" stroke="#111" stroke-width="0.5"/>
<line x1="384.2" y1="659.4" x2="465.6" y2="659.4" stroke="#111" stroke-width="1"/>
<line x1="391.8" y1="659.4" x2="391.8" y2="685.3" stroke="#111" stroke-width="1"/>
<line x1="391.8" y1="745" x2="391.8" y2="773.8" stroke="#111" stroke-width="1"/>
<path d="M391.8,659.4 L389.2,669.9 L394.4,669.9Z" fill="#111" stroke="#111" stroke-width="0.5"/>
<path d="M391.8,773.8 L389.2,763.3 L394.4,763.3Z" fill="#111" stroke="#111" stroke-width="0.5"/>
<g transform="translate(384.01,699.2) scale(0.8,1)"><text x="0" y="0" font-size="10.61" font-weight="normal" textLength="20.74" lengthAdjust="spacing" fill="#111" stroke="#111" stroke-width="0.3" font-family="Liberation Sans" >100</text></g>
<g transform="translate(366.02,713.45) scale(0.71,1)"><text x="0" y="0" font-size="11.56" font-weight="normal" textLength="73.82" lengthAdjust="spacing" fill="#111" stroke="#111" stroke-width="0.45" font-family="Liberation Sans" >MINIMUM</text></g>
<g transform="translate(360.44,726.7) scale(0.7,1)"><text x="0" y="0" font-size="11.48" font-weight="normal" textLength="88.44" lengthAdjust="spacing" fill="#111" stroke="#111" stroke-width="0.45" font-family="Liberation Sans" >INSERTION</text></g>
<g transform="translate(357.44,740.9) scale(0.62,1)"><text x="0" y="0" font-size="12.94" font-weight="normal" textLength="112.6" lengthAdjust="spacing" fill="#111" stroke="#111" stroke-width="0.45" font-family="Liberation Sans" >INTO FRAME</text></g>
<line x1="384.2" y1="773.8" x2="429.1" y2="773.8" stroke="#111" stroke-width="1"/>
<g transform="translate(384.48,794.3) scale(0.8,1)"><text x="0" y="0" font-size="12.79" font-weight="normal" textLength="18.29" lengthAdjust="spacing" fill="#111" stroke="#111" stroke-width="0.3" font-family="Liberation Sans" >28</text></g>
<line x1="384.2" y1="805.6" x2="458" y2="805.6" stroke="#111" stroke-width="1"/>
<line x1="391.8" y1="805.6" x2="391.8" y2="835" stroke="#111" stroke-width="1"/>
<path d="M391.8,805.6 L389.2,816.1 L394.4,816.1Z" fill="#111" stroke="#111" stroke-width="0.5"/>
<g transform="translate(467.93,820.8) scale(0.61,1)"><text x="0" y="0" font-size="13.37" font-weight="normal" textLength="91.68" lengthAdjust="spacing" fill="#111" stroke="#111" stroke-width="0.45" font-family="Liberation Sans" >175 DROP</text></g>
<line x1="732.5" y1="312.2" x2="732.5" y2="486.2" stroke="#151515" stroke-width="1.3"/>
<line x1="762.8" y1="312.2" x2="762.8" y2="486.2" stroke="#151515" stroke-width="1.3"/>
<line x1="729.3" y1="510.7" x2="729.3" y2="772.1" stroke="#2a2a2a" stroke-width="1.2"/>
<line x1="765.1" y1="510.7" x2="765.1" y2="772.1" stroke="#555" stroke-width="1.2"/>
<path d="M729.3,770.8 Q729.3,773.3 731.8,773.3 L762.6,773.3 Q765.1,773.3 765.1,770.8" stroke="#111" stroke-width="2" fill="none" />
<use href="#fhead" transform="translate(732.5,274.2)"/>
<use href="#fcollar" transform="translate(747.1,485.7)"/>
<use href="#fact" transform="translate(729.3,773.3)"/>
<line x1="823.4" y1="318.4" x2="823.4" y2="486.2" stroke="#151515" stroke-width="1.3"/>
<line x1="853.3" y1="318.4" x2="853.3" y2="486.2" stroke="#151515" stroke-width="1.3"/>
<line x1="820.4" y1="510.7" x2="820.4" y2="772.1" stroke="#2a2a2a" stroke-width="1.2"/>
<line x1="856.2" y1="510.7" x2="856.2" y2="772.1" stroke="#444" stroke-width="1.2"/>
<path d="M820.4,770.8 Q820.4,773.3 822.9,773.3 L855.2,773.3 L856.2,771.8" stroke="#111" stroke-width="2" fill="none" />
<use href="#shead" transform="translate(823.4,295.4)"/>
<use href="#scollar" transform="translate(838.2,485.7)"/>
<use href="#sact" transform="translate(820.4,773.3)"/>
<line x1="880" y1="295.4" x2="945.6" y2="295.4" stroke="#111" stroke-width="1"/>
<line x1="862.8" y1="510.7" x2="906.4" y2="510.7" stroke="#111" stroke-width="1"/>
<line x1="856" y1="773.3" x2="945.8" y2="773.3" stroke="#111" stroke-width="1"/>
<line x1="899.3" y1="295.4" x2="899.3" y2="395.4" stroke="#111" stroke-width="1"/>
<line x1="899.3" y1="411.5" x2="899.3" y2="510.7" stroke="#111" stroke-width="1"/>
<line x1="899.3" y1="510.7" x2="899.3" y2="634" stroke="#111" stroke-width="1"/>
<line x1="899.3" y1="651" x2="899.3" y2="773.3" stroke="#111" stroke-width="1"/>
<line x1="938.2" y1="295.4" x2="938.2" y2="527.1" stroke="#111" stroke-width="1"/>
<line x1="938.2" y1="543.5" x2="938.2" y2="773.3" stroke="#111" stroke-width="1"/>
<path d="M899.3,295.4 L896.7,305.9 L901.9,305.9Z" fill="#111" stroke="#111" stroke-width="0.5"/>
<path d="M899.3,510.7 L896.7,500.2 L901.9,500.2Z" fill="#111" stroke="#111" stroke-width="0.5"/>
<path d="M899.3,510.7 L896.7,521.2 L901.9,521.2Z" fill="#111" stroke="#111" stroke-width="0.5"/>
<path d="M899.3,773.3 L896.7,762.8 L901.9,762.8Z" fill="#111" stroke="#111" stroke-width="0.5"/>
<path d="M938.2,295.4 L935.6,305.9 L940.8,305.9Z" fill="#111" stroke="#111" stroke-width="0.5"/>
<path d="M938.2,773.3 L935.6,762.8 L940.8,762.8Z" fill="#111" stroke="#111" stroke-width="0.5"/>
<g transform="translate(881.81,407.7) scale(0.8,1)"><text x="0" y="0" font-size="12.35" font-weight="normal" textLength="44.35" lengthAdjust="spacing" fill="#111" stroke="#111" stroke-width="0.3" font-family="Liberation Sans" >188,2</text></g>
<g transform="translate(888.83,647.2) scale(0.8,1)"><text x="0" y="0" font-size="13.66" font-weight="normal" textLength="26.41" lengthAdjust="spacing" fill="#111" stroke="#111" stroke-width="0.3" font-family="Liberation Sans" >230</text></g>
<g transform="translate(920.28,539.7) scale(0.8,1)"><text x="0" y="0" font-size="12.79" font-weight="normal" textLength="45.54" lengthAdjust="spacing" fill="#111" stroke="#111" stroke-width="0.3" font-family="Liberation Sans" >418,3</text></g>
<line x1="690.5" y1="485.7" x2="728.3" y2="485.7" stroke="#111" stroke-width="1"/>
<line x1="690.5" y1="510.7" x2="723" y2="510.7" stroke="#111" stroke-width="1"/>
<line x1="697.8" y1="456.7" x2="697.8" y2="485.7" stroke="#111" stroke-width="1"/>
<line x1="697.8" y1="510.7" x2="697.8" y2="540" stroke="#111" stroke-width="1"/>
<path d="M697.8,485.7 L695.2,475.2 L700.4,475.2Z" fill="#111" stroke="#111" stroke-width="0.5"/>
<path d="M697.8,510.7 L695.2,521.2 L700.4,521.2Z" fill="#111" stroke="#111" stroke-width="0.5"/>
<g transform="translate(683.56,502.8) scale(0.8,1)"><text x="0" y="0" font-size="11.48" font-weight="normal" textLength="35.48" lengthAdjust="spacing" fill="#111" stroke="#111" stroke-width="0.3" font-family="Liberation Sans" >21,9</text></g>
<ellipse cx="686.55" cy="573.65" rx="4.36" ry="4.65" stroke="#111" stroke-width="1.1" fill="none"/>
<line x1="682.39" y1="579.8" x2="690.9" y2="566.6" stroke="#111" stroke-width="1.1"/>
<g transform="translate(694.55,577.6) scale(0.75,1)"><text x="0" y="0" font-size="11.48" font-weight="normal" textLength="8.47" lengthAdjust="spacing" fill="#111" stroke="#111" stroke-width="0.2" font-family="Liberation Sans" >A</text></g>
<line x1="706" y1="573.2" x2="729.3" y2="573.2" stroke="#111" stroke-width="1"/>
<path d="M729.3,573.2 L718.8,570.6 L718.8,575.8Z" fill="#111" stroke="#111" stroke-width="0.5"/>
<line x1="765.1" y1="573.2" x2="794" y2="573.2" stroke="#111" stroke-width="1"/>
<path d="M765.1,573.2 L775.6,570.6 L775.6,575.8Z" fill="#111" stroke="#111" stroke-width="0.5"/>
<line x1="680.6" y1="659" x2="761.9" y2="659" stroke="#111" stroke-width="1"/>
<line x1="687.5" y1="659" x2="687.5" y2="687.5" stroke="#111" stroke-width="1"/>
<line x1="687.5" y1="744.8" x2="687.5" y2="773.3" stroke="#111" stroke-width="1"/>
<path d="M687.5,659 L684.9,669.5 L690.1,669.5Z" fill="#111" stroke="#111" stroke-width="0.5"/>
<path d="M687.5,773.3 L684.9,762.8 L690.1,762.8Z" fill="#111" stroke="#111" stroke-width="0.5"/>
<g transform="translate(679.94,700.7) scale(0.8,1)"><text x="0" y="0" font-size="11.77" font-weight="normal" textLength="20.9" lengthAdjust="spacing" fill="#111" stroke="#111" stroke-width="0.3" font-family="Liberation Sans" >100</text></g>
<g transform="translate(661.94,714.3) scale(0.67,1)"><text x="0" y="0" font-size="11.92" font-weight="normal" textLength="76.15" lengthAdjust="spacing" fill="#111" stroke="#111" stroke-width="0.45" font-family="Liberation Sans" >MINIMUM</text></g>
<g transform="translate(652.92,727.7) scale(0.69,1)"><text x="0" y="0" font-size="11.92" font-weight="normal" textLength="91.8" lengthAdjust="spacing" fill="#111" stroke="#111" stroke-width="0.45" font-family="Liberation Sans" >INSERTION</text></g>
<g transform="translate(652.94,742) scale(0.61,1)"><text x="0" y="0" font-size="13.08" font-weight="normal" textLength="113.87" lengthAdjust="spacing" fill="#111" stroke="#111" stroke-width="0.45" font-family="Liberation Sans" >INTO FRAME</text></g>
<line x1="680.6" y1="773.3" x2="725.4" y2="773.3" stroke="#111" stroke-width="1"/>
<g transform="translate(680.55,794.5) scale(0.8,1)"><text x="0" y="0" font-size="13.37" font-weight="normal" textLength="18.5" lengthAdjust="spacing" fill="#111" stroke="#111" stroke-width="0.3" font-family="Liberation Sans" >28</text></g>
<line x1="680.6" y1="805.2" x2="753.5" y2="805.2" stroke="#111" stroke-width="1"/>
<line x1="687.5" y1="805.2" x2="687.5" y2="834.4" stroke="#111" stroke-width="1"/>
<path d="M687.5,805.2 L684.9,815.7 L690.1,815.7Z" fill="#111" stroke="#111" stroke-width="0.5"/>
<g transform="translate(771.72,823) scale(0.61,1)"><text x="0" y="0" font-size="13.37" font-weight="normal" textLength="91.68" lengthAdjust="spacing" fill="#111" stroke="#111" stroke-width="0.45" font-family="Liberation Sans" >150 DROP</text></g>
<line x1="1035.9" y1="374.7" x2="1035.9" y2="520.2" stroke="#151515" stroke-width="1.3"/>
<line x1="1065.6" y1="374.7" x2="1065.6" y2="520.2" stroke="#151515" stroke-width="1.3"/>
<line x1="1032.6" y1="544.3" x2="1032.6" y2="772.3" stroke="#2a2a2a" stroke-width="1.2"/>
<line x1="1069.1" y1="544.3" x2="1069.1" y2="772.3" stroke="#555" stroke-width="1.2"/>
<path d="M1032.6,771 Q1032.6,773.5 1035.1,773.5 L1066.6,773.5 Q1069.1,773.5 1069.1,771" stroke="#111" stroke-width="2" fill="none" />
<use href="#fhead" transform="translate(1035.9,336.7)"/>
<use href="#fcollar" transform="translate(1050.7,519.7)"/>
<use href="#fact" transform="translate(1032.6,773.5)"/>
<line x1="1118.7" y1="381.4" x2="1118.7" y2="520.2" stroke="#151515" stroke-width="1.3"/>
<line x1="1148.4" y1="381.4" x2="1148.4" y2="520.2" stroke="#151515" stroke-width="1.3"/>
<line x1="1115.8" y1="544.3" x2="1115.8" y2="772.3" stroke="#2a2a2a" stroke-width="1.2"/>
<line x1="1151.4" y1="544.3" x2="1151.4" y2="772.3" stroke="#444" stroke-width="1.2"/>
<path d="M1115.8,771 Q1115.8,773.5 1118.3,773.5 L1150.4,773.5 L1151.4,772" stroke="#111" stroke-width="2" fill="none" />
<use href="#shead" transform="translate(1118.7,358.4)"/>
<use href="#scollar" transform="translate(1133.8,519.7)"/>
<use href="#sact" transform="translate(1115.8,773.5)"/>
<line x1="1175" y1="358.4" x2="1234.2" y2="358.4" stroke="#111" stroke-width="1"/>
<line x1="1158.4" y1="544.3" x2="1196.3" y2="544.3" stroke="#111" stroke-width="1"/>
<line x1="1151" y1="773.5" x2="1234.1" y2="773.5" stroke="#111" stroke-width="1"/>
<line x1="1189.7" y1="358.4" x2="1189.7" y2="443.4" stroke="#111" stroke-width="1"/>
<line x1="1189.7" y1="459.5" x2="1189.7" y2="544.3" stroke="#111" stroke-width="1"/>
<line x1="1189.7" y1="544.3" x2="1189.7" y2="652" stroke="#111" stroke-width="1"/>
<line x1="1189.7" y1="667.5" x2="1189.7" y2="773.5" stroke="#111" stroke-width="1"/>
<line x1="1226.7" y1="358.4" x2="1226.7" y2="558.2" stroke="#111" stroke-width="1"/>
<line x1="1226.7" y1="574.1" x2="1226.7" y2="773.5" stroke="#111" stroke-width="1"/>
<path d="M1189.7,358.4 L1187.1,368.9 L1192.3,368.9Z" fill="#111" stroke="#111" stroke-width="0.5"/>
<path d="M1189.7,544.3 L1187.1,533.8 L1192.3,533.8Z" fill="#111" stroke="#111" stroke-width="0.5"/>
<path d="M1189.7,544.3 L1187.1,554.8 L1192.3,554.8Z" fill="#111" stroke="#111" stroke-width="0.5"/>
<path d="M1189.7,773.5 L1187.1,763 L1192.3,763Z" fill="#111" stroke="#111" stroke-width="0.5"/>
<path d="M1226.7,358.4 L1224.1,368.9 L1229.3,368.9Z" fill="#111" stroke="#111" stroke-width="0.5"/>
<path d="M1226.7,773.5 L1224.1,763 L1229.3,763Z" fill="#111" stroke="#111" stroke-width="0.5"/>
<g transform="translate(1172.91,455.7) scale(0.8,1)"><text x="0" y="0" font-size="12.35" font-weight="normal" textLength="43.1" lengthAdjust="spacing" fill="#111" stroke="#111" stroke-width="0.3" font-family="Liberation Sans" >163,3</text></g>
<g transform="translate(1172.06,663.7) scale(0.8,1)"><text x="0" y="0" font-size="11.48" font-weight="normal" textLength="44.11" lengthAdjust="spacing" fill="#111" stroke="#111" stroke-width="0.3" font-family="Liberation Sans" >200,2</text></g>
<g transform="translate(1209.52,570.3) scale(0.8,1)"><text x="0" y="0" font-size="12.06" font-weight="normal" textLength="43.56" lengthAdjust="spacing" fill="#111" stroke="#111" stroke-width="0.3" font-family="Liberation Sans" >363,5</text></g>
<line x1="988" y1="519.7" x2="1031.6" y2="519.7" stroke="#111" stroke-width="1"/>
<line x1="988" y1="544.3" x2="1026.4" y2="544.3" stroke="#111" stroke-width="1"/>
<line x1="994.8" y1="490.7" x2="994.8" y2="519.7" stroke="#111" stroke-width="1"/>
<line x1="994.8" y1="544.3" x2="994.8" y2="574" stroke="#111" stroke-width="1"/>
<path d="M994.8,519.7 L992.2,509.2 L997.4,509.2Z" fill="#111" stroke="#111" stroke-width="0.5"/>
<path d="M994.8,544.3 L992.2,554.8 L997.4,554.8Z" fill="#111" stroke="#111" stroke-width="0.5"/>
<g transform="translate(981.01,536.8) scale(0.8,1)"><text x="0" y="0" font-size="12.35" font-weight="normal" textLength="35.6" lengthAdjust="spacing" fill="#111" stroke="#111" stroke-width="0.3" font-family="Liberation Sans" >21,9</text></g>
<ellipse cx="985.12" cy="593" rx="4.75" ry="5.08" stroke="#111" stroke-width="1.1" fill="none"/>
<line x1="980.58" y1="599.6" x2="989.87" y2="585.5" stroke="#111" stroke-width="1.1"/>
<g transform="translate(992.11,597.4) scale(0.75,1)"><text x="0" y="0" font-size="12.79" font-weight="normal" textLength="9.28" lengthAdjust="spacing" fill="#111" stroke="#111" stroke-width="0.2" font-family="Liberation Sans" >A</text></g>
<line x1="1004" y1="592" x2="1032.6" y2="592" stroke="#111" stroke-width="1"/>
<path d="M1032.6,592 L1022.1,589.4 L1022.1,594.6Z" fill="#111" stroke="#111" stroke-width="0.5"/>
<line x1="1069.1" y1="592" x2="1097.8" y2="592" stroke="#111" stroke-width="1"/>
<path d="M1069.1,592 L1079.6,589.4 L1079.6,594.6Z" fill="#111" stroke="#111" stroke-width="0.5"/>
<line x1="986" y1="659.1" x2="1065.3" y2="659.1" stroke="#111" stroke-width="1"/>
<line x1="993.4" y1="659.1" x2="993.4" y2="682.6" stroke="#111" stroke-width="1"/>
<line x1="993.4" y1="740.4" x2="993.4" y2="773.5" stroke="#111" stroke-width="1"/>
<path d="M993.4,659.1 L990.8,669.6 L996,669.6Z" fill="#111" stroke="#111" stroke-width="0.5"/>
<path d="M993.4,773.5 L990.8,763 L996,763Z" fill="#111" stroke="#111" stroke-width="0.5"/>
<g transform="translate(985.67,695) scale(0.8,1)"><text x="0" y="0" font-size="11.19" font-weight="normal" textLength="20.82" lengthAdjust="spacing" fill="#111" stroke="#111" stroke-width="0.3" font-family="Liberation Sans" >100</text></g>
<g transform="translate(967.84,708.3) scale(0.71,1)"><text x="0" y="0" font-size="11.34" font-weight="normal" textLength="72.43" lengthAdjust="spacing" fill="#111" stroke="#111" stroke-width="0.45" font-family="Liberation Sans" >MINIMUM</text></g>
<g transform="translate(958.93,722) scale(0.72,1)"><text x="0" y="0" font-size="11.34" font-weight="normal" textLength="87.32" lengthAdjust="spacing" fill="#111" stroke="#111" stroke-width="0.45" font-family="Liberation Sans" >INSERTION</text></g>
<g transform="translate(958.94,736.3) scale(0.61,1)"><text x="0" y="0" font-size="13.08" font-weight="normal" textLength="113.87" lengthAdjust="spacing" fill="#111" stroke="#111" stroke-width="0.45" font-family="Liberation Sans" >INTO FRAME</text></g>
<line x1="986" y1="773.5" x2="1029.2" y2="773.5" stroke="#111" stroke-width="1"/>
<g transform="translate(986.18,794.1) scale(0.8,1)"><text x="0" y="0" font-size="12.94" font-weight="normal" textLength="17.69" lengthAdjust="spacing" fill="#111" stroke="#111" stroke-width="0.3" font-family="Liberation Sans" >28</text></g>
<line x1="986" y1="805.3" x2="1056" y2="805.3" stroke="#111" stroke-width="1"/>
<line x1="993.4" y1="805.3" x2="993.4" y2="834.1" stroke="#111" stroke-width="1"/>
<path d="M993.4,805.3 L990.8,815.8 L996,815.8Z" fill="#111" stroke="#111" stroke-width="0.5"/>
<g transform="translate(1070.64,820.6) scale(0.67,1)"><text x="0" y="0" font-size="12.06" font-weight="normal" textLength="82.71" lengthAdjust="spacing" fill="#111" stroke="#111" stroke-width="0.45" font-family="Liberation Sans" >125 DROP</text></g>
<line x1="1332.4" y1="437.3" x2="1332.4" y2="554.5" stroke="#151515" stroke-width="1.3"/>
<line x1="1362.7" y1="437.3" x2="1362.7" y2="554.5" stroke="#151515" stroke-width="1.3"/>
<line x1="1329.6" y1="578.6" x2="1329.6" y2="772.5" stroke="#2a2a2a" stroke-width="1.2"/>
<line x1="1365.6" y1="578.6" x2="1365.6" y2="772.5" stroke="#555" stroke-width="1.2"/>
<path d="M1329.6,771.2 Q1329.6,773.7 1332.1,773.7 L1363.1,773.7 Q1365.6,773.7 1365.6,771.2" stroke="#111" stroke-width="2" fill="none" />
<use href="#fhead" transform="translate(1332.4,399.3)"/>
<use href="#fcollar" transform="translate(1347.7,554)"/>
<use href="#fact" transform="translate(1329.6,773.7)"/>
<line x1="1423.8" y1="443.8" x2="1423.8" y2="554.5" stroke="#151515" stroke-width="1.3"/>
<line x1="1454.1" y1="443.8" x2="1454.1" y2="554.5" stroke="#151515" stroke-width="1.3"/>
<line x1="1421.1" y1="578.6" x2="1421.1" y2="772.5" stroke="#2a2a2a" stroke-width="1.2"/>
<line x1="1457.1" y1="578.6" x2="1457.1" y2="772.5" stroke="#444" stroke-width="1.2"/>
<path d="M1421.1,771.2 Q1421.1,773.7 1423.6,773.7 L1456.1,773.7 L1457.1,772.2" stroke="#111" stroke-width="2" fill="none" />
<use href="#shead" transform="translate(1423.8,420.8)"/>
<use href="#scollar" transform="translate(1439,554)"/>
<use href="#sact" transform="translate(1421.1,773.7)"/>
<line x1="1480" y1="420.8" x2="1528.6" y2="420.8" stroke="#111" stroke-width="1"/>
<line x1="1463.6" y1="578.6" x2="1495.8" y2="578.6" stroke="#111" stroke-width="1"/>
<line x1="1457" y1="773.7" x2="1528.9" y2="773.7" stroke="#111" stroke-width="1"/>
<line x1="1489.1" y1="420.8" x2="1489.1" y2="492.4" stroke="#111" stroke-width="1"/>
<line x1="1489.1" y1="508.1" x2="1489.1" y2="578.6" stroke="#111" stroke-width="1"/>
<line x1="1489.1" y1="578.6" x2="1489.1" y2="667.9" stroke="#111" stroke-width="1"/>
<line x1="1489.1" y1="684.4" x2="1489.1" y2="773.7" stroke="#111" stroke-width="1"/>
<line x1="1521.6" y1="420.8" x2="1521.6" y2="590.3" stroke="#111" stroke-width="1"/>
<line x1="1521.6" y1="605.8" x2="1521.6" y2="773.7" stroke="#111" stroke-width="1"/>
<path d="M1489.1,420.8 L1486.5,431.3 L1491.7,431.3Z" fill="#111" stroke="#111" stroke-width="0.5"/>
<path d="M1489.1,578.6 L1486.5,568.1 L1491.7,568.1Z" fill="#111" stroke="#111" stroke-width="0.5"/>
<path d="M1489.1,578.6 L1486.5,589.1 L1491.7,589.1Z" fill="#111" stroke="#111" stroke-width="0.5"/>
<path d="M1489.1,773.7 L1486.5,763.2 L1491.7,763.2Z" fill="#111" stroke="#111" stroke-width="0.5"/>
<path d="M1521.6,420.8 L1519,431.3 L1524.2,431.3Z" fill="#111" stroke="#111" stroke-width="0.5"/>
<path d="M1521.6,773.7 L1519,763.2 L1524.2,763.2Z" fill="#111" stroke="#111" stroke-width="0.5"/>
<g transform="translate(1472.34,504.3) scale(0.8,1)"><text x="0" y="0" font-size="11.77" font-weight="normal" textLength="43.65" lengthAdjust="spacing" fill="#111" stroke="#111" stroke-width="0.3" font-family="Liberation Sans" >138,3</text></g>
<g transform="translate(1472.28,680.6) scale(0.8,1)"><text x="0" y="0" font-size="12.94" font-weight="normal" textLength="43.81" lengthAdjust="spacing" fill="#111" stroke="#111" stroke-width="0.3" font-family="Liberation Sans" >170,3</text></g>
<g transform="translate(1503.66,602) scale(0.8,1)"><text x="0" y="0" font-size="11.48" font-weight="normal" textLength="44.23" lengthAdjust="spacing" fill="#111" stroke="#111" stroke-width="0.3" font-family="Liberation Sans" >308,6</text></g>
<line x1="1292.2" y1="554" x2="1328.2" y2="554" stroke="#111" stroke-width="1"/>
<line x1="1292.2" y1="578.6" x2="1323.4" y2="578.6" stroke="#111" stroke-width="1"/>
<line x1="1299.4" y1="524.6" x2="1299.4" y2="554" stroke="#111" stroke-width="1"/>
<line x1="1299.4" y1="578.6" x2="1299.4" y2="608" stroke="#111" stroke-width="1"/>
<path d="M1299.4,554 L1296.8,543.5 L1302,543.5Z" fill="#111" stroke="#111" stroke-width="0.5"/>
<path d="M1299.4,578.6 L1296.8,589.1 L1302,589.1Z" fill="#111" stroke="#111" stroke-width="0.5"/>
<g transform="translate(1284.91,571.3) scale(0.8,1)"><text x="0" y="0" font-size="12.35" font-weight="normal" textLength="35.98" lengthAdjust="spacing" fill="#111" stroke="#111" stroke-width="0.3" font-family="Liberation Sans" >21,9</text></g>
<ellipse cx="1283.48" cy="623.75" rx="4.97" ry="5.31" stroke="#111" stroke-width="1.1" fill="none"/>
<line x1="1278.73" y1="630.6" x2="1288.45" y2="616" stroke="#111" stroke-width="1.1"/>
<g transform="translate(1290.41,628.4) scale(0.75,1)"><text x="0" y="0" font-size="13.52" font-weight="normal" textLength="9.73" lengthAdjust="spacing" fill="#111" stroke="#111" stroke-width="0.2" font-family="Liberation Sans" >A</text></g>
<line x1="1302.6" y1="623.5" x2="1329.6" y2="623.5" stroke="#111" stroke-width="1"/>
<path d="M1329.6,623.5 L1319.1,620.9 L1319.1,626.1Z" fill="#111" stroke="#111" stroke-width="0.5"/>
<line x1="1365.6" y1="623.5" x2="1394.5" y2="623.5" stroke="#111" stroke-width="1"/>
<path d="M1365.6,623.5 L1376.1,620.9 L1376.1,626.1Z" fill="#111" stroke="#111" stroke-width="0.5"/>
<line x1="1280.4" y1="659.3" x2="1362.2" y2="659.3" stroke="#111" stroke-width="1"/>
<line x1="1288" y1="659.3" x2="1288" y2="679.4" stroke="#111" stroke-width="1"/>
<line x1="1288" y1="738" x2="1288" y2="773.7" stroke="#111" stroke-width="1"/>
<path d="M1288,659.3 L1285.4,669.8 L1290.6,669.8Z" fill="#111" stroke="#111" stroke-width="0.5"/>
<path d="M1288,773.7 L1285.4,763.2 L1290.6,763.2Z" fill="#111" stroke="#111" stroke-width="0.5"/>
<g transform="translate(1280.52,692.7) scale(0.8,1)"><text x="0" y="0" font-size="12.21" font-weight="normal" textLength="20.96" lengthAdjust="spacing" fill="#111" stroke="#111" stroke-width="0.3" font-family="Liberation Sans" >100</text></g>
<g transform="translate(1262.03,706) scale(0.69,1)"><text x="0" y="0" font-size="11.77" font-weight="normal" textLength="75.22" lengthAdjust="spacing" fill="#111" stroke="#111" stroke-width="0.45" font-family="Liberation Sans" >MINIMUM</text></g>
<g transform="translate(1253.52,719.1) scale(0.7,1)"><text x="0" y="0" font-size="11.77" font-weight="normal" textLength="90.68" lengthAdjust="spacing" fill="#111" stroke="#111" stroke-width="0.45" font-family="Liberation Sans" >INSERTION</text></g>
<g transform="translate(1253.54,733.2) scale(0.65,1)"><text x="0" y="0" font-size="12.35" font-weight="normal" textLength="107.54" lengthAdjust="spacing" fill="#111" stroke="#111" stroke-width="0.45" font-family="Liberation Sans" >INTO FRAME</text></g>
<line x1="1280.4" y1="773.7" x2="1325.9" y2="773.7" stroke="#111" stroke-width="1"/>
<g transform="translate(1280.68,794.2) scale(0.8,1)"><text x="0" y="0" font-size="12.94" font-weight="normal" textLength="18.19" lengthAdjust="spacing" fill="#111" stroke="#111" stroke-width="0.3" font-family="Liberation Sans" >28</text></g>
<line x1="1280.4" y1="805.7" x2="1353.1" y2="805.7" stroke="#111" stroke-width="1"/>
<line x1="1288" y1="805.7" x2="1288" y2="835" stroke="#111" stroke-width="1"/>
<path d="M1288,805.7 L1285.4,816.2 L1290.6,816.2Z" fill="#111" stroke="#111" stroke-width="0.5"/>
<g transform="translate(1370.73,822.5) scale(0.63,1)"><text x="0" y="0" font-size="12.94" font-weight="normal" textLength="88.69" lengthAdjust="spacing" fill="#111" stroke="#111" stroke-width="0.45" font-family="Liberation Sans" >100 DROP</text></g>
<rect x="396.6" y="618.6" width="16.8" height="18.7" stroke="#333" stroke-width="1.2" fill="none"/>
<g transform="translate(401.51,632.5) scale(0.85,1)"><text x="0" y="0" font-size="13.23" font-weight="normal" textLength="9.38" lengthAdjust="spacing" fill="#111" stroke="#111" stroke-width="0.45" font-family="Liberation Sans" >5</text></g>
<path d="M413.4,628.2 L427.6,628.2 L445,614" stroke="#111" stroke-width="1" fill="none" />
<path d="M449.8,610.3 L441.2,614.6 L444.6,618.6 Z" fill="#000"/>
</svg></body></html>
